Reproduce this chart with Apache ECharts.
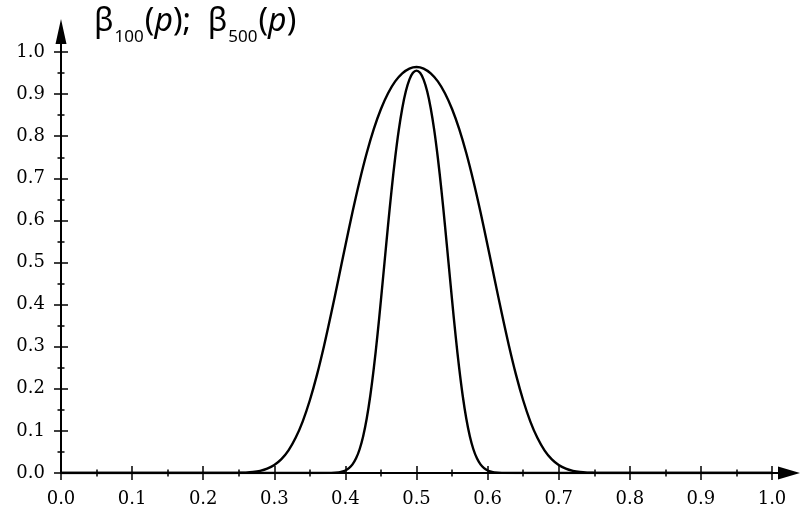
<!DOCTYPE html>
<html>
<head>
<meta charset="utf-8">
<script src="https://cdn.jsdelivr.net/npm/echarts@6/dist/echarts.min.js"></script>
<style>
html,body{margin:0;padding:0;background:#fff;}
#chart{width:800px;height:508px;}
</style>
</head>
<body>
<div id="chart"></div>
<script>
// Axis tick labels
const xTicks = [0.0, 0.1, 0.2, 0.3, 0.4, 0.5, 0.6, 0.7, 0.8, 0.9, 1.0];
const yTicks = [0.0, 0.1, 0.2, 0.3, 0.4, 0.5, 0.6, 0.7, 0.8, 0.9, 1.0];

// beta_100(p): p grid and values
const p100 = [0, 0.22, 0.24, 0.25, 0.26, 0.27, 0.28, 0.29, 0.30, 0.31, 0.32, 0.33, 0.34, 0.35, 0.36, 0.37, 0.38, 0.39,
  0.40, 0.41, 0.42, 0.43, 0.44, 0.45, 0.46, 0.47, 0.48, 0.49, 0.50, 0.51, 0.52, 0.53, 0.54, 0.55, 0.56, 0.57, 0.58, 0.59,
  0.60, 0.61, 0.62, 0.63, 0.64, 0.65, 0.66, 0.67, 0.68, 0.69, 0.70, 0.71, 0.72, 0.73, 0.74, 0.75, 0.76, 0.78, 1.0];
const beta100 = [0, 0, 0.0001, 0.0004, 0.0010, 0.0024, 0.0052, 0.0103, 0.0191, 0.0330, 0.0539, 0.0835, 0.1228, 0.1728, 0.2330, 0.3023, 0.3787, 0.4592,
  0.5406, 0.6198, 0.6936, 0.7600, 0.8173, 0.8646, 0.9021, 0.9302, 0.9493, 0.9606, 0.9643, 0.9606, 0.9493, 0.9302, 0.9021, 0.8646, 0.8173, 0.7600, 0.6936, 0.6198,
  0.5406, 0.4592, 0.3787, 0.3023, 0.2330, 0.1728, 0.1228, 0.0835, 0.0539, 0.0330, 0.0191, 0.0103, 0.0052, 0.0024, 0.0010, 0.0004, 0.0001, 0, 0];

// beta_500(p): p grid and values
const p500 = [0, 0.36, 0.38, 0.39, 0.395, 0.40, 0.405, 0.41, 0.415, 0.42, 0.425, 0.43, 0.435, 0.44, 0.445, 0.45, 0.455, 0.46, 0.465, 0.47, 0.475, 0.48, 0.485, 0.49, 0.495,
  0.50, 0.505, 0.51, 0.515, 0.52, 0.525, 0.53, 0.535, 0.54, 0.545, 0.55, 0.555, 0.56, 0.565, 0.57, 0.575, 0.58, 0.585, 0.59, 0.595, 0.60, 0.605, 0.61, 0.62, 0.64, 1.0];
const beta500 = [0, 0, 0.0003, 0.0014, 0.0030, 0.0060, 0.0114, 0.0204, 0.0348, 0.0564, 0.0874, 0.1294, 0.1835, 0.2496, 0.3264, 0.4111, 0.5000, 0.5886, 0.6728, 0.7488, 0.8139, 0.8666, 0.9066, 0.9344, 0.9505,
  0.9558, 0.9505, 0.9344, 0.9066, 0.8666, 0.8139, 0.7488, 0.6728, 0.5886, 0.5000, 0.4111, 0.3264, 0.2496, 0.1835, 0.1294, 0.0874, 0.0564, 0.0348, 0.0204, 0.0114, 0.0060, 0.0030, 0.0014, 0.0003, 0, 0];

const zip = (xs, ys) => xs.map((x, i) => [x, ys[i]]);
const fmt = v => Number(v).toFixed(1);
const labelFont = { fontFamily: 'DejaVu Serif', fontSize: 18, color: '#000' };

const chart = echarts.init(document.getElementById('chart'), null, { renderer: 'canvas' });

const xArrow = 'path://M6.5 0 L13 22 L7.5 22 L7.5 28 L5.5 28 L5.5 22 L0 22 Z';
const yArrow = 'path://M5.5 0 L11 25 L6.5 25 L6.5 33 L4.5 33 L4.5 25 L0 25 Z';

const baseX = {
  type: 'value', min: 0, max: 1, interval: 0.1, position: 'bottom',
  splitLine: { show: false }
};
const baseY = {
  type: 'value', min: 0, max: 1, interval: 0.1, position: 'left',
  splitLine: { show: false }
};

const tf = 'Noto Sans';
chart.setOption({
  backgroundColor: '#ffffff',
  animation: false,
  title: {
    left: 94, top: -2, padding: 0,
    text: '{b|β}{s|100}{n|(}{i|p}{n|);  β}{s|500}{n|(}{i|p}{n|)}',
    textStyle: {
      fontWeight: 'normal',
      rich: {
        b: { fontFamily: tf, fontWeight: 'normal', fontSize: 32, color: '#000', lineHeight: 48 },
        n: { fontFamily: tf, fontWeight: 'normal', fontSize: 32, color: '#000', lineHeight: 48 },
        i: { fontFamily: tf, fontWeight: 'normal', fontStyle: 'italic', fontSize: 32, color: '#000', lineHeight: 48 },
        s: { fontFamily: tf, fontWeight: 'normal', fontSize: 17, color: '#000', verticalAlign: 'bottom', lineHeight: 17, padding: [0, 1, 0, 1] }
      }
    }
  },
  grid: { left: 61, right: 28, top: 52, bottom: 35, containLabel: false },
  xAxis: [
    Object.assign({}, baseX, {
      axisLine: { show: true, symbol: ['none', xArrow], symbolSize: [13, 28], symbolOffset: [0, 14], lineStyle: { color: '#000', width: 2 } },
      axisTick: { show: true, inside: false, length: 7, lineStyle: { color: '#000', width: 1.5 } },
      minorTick: { show: true, splitNumber: 2, length: 3.5, lineStyle: { color: '#000', width: 1.5 } },
      axisLabel: Object.assign({ margin: 17, formatter: fmt }, labelFont)
    }),
    Object.assign({}, baseX, {
      axisLine: { show: false },
      axisTick: { show: true, inside: true, length: 7, lineStyle: { color: '#000', width: 1.5 } },
      minorTick: { show: true, splitNumber: 2, length: 3.5, lineStyle: { color: '#000', width: 1.5 } },
      axisLabel: { show: false }
    })
  ],
  yAxis: [
    Object.assign({}, baseY, {
      axisLine: { show: true, symbol: ['none', yArrow], symbolSize: [11, 33], symbolOffset: [0, 16.5], lineStyle: { color: '#000', width: 2 } },
      axisTick: { show: true, inside: false, length: 7, lineStyle: { color: '#000', width: 1.5 } },
      minorTick: { show: true, splitNumber: 2, length: 3.5, lineStyle: { color: '#000', width: 1.5 } },
      axisLabel: Object.assign({ margin: 16, formatter: fmt }, labelFont)
    }),
    Object.assign({}, baseY, {
      axisLine: { show: false },
      axisTick: { show: true, inside: true, length: 7, lineStyle: { color: '#000', width: 1.5 } },
      minorTick: { show: true, splitNumber: 2, length: 3.5, lineStyle: { color: '#000', width: 1.5 } },
      axisLabel: { show: false }
    })
  ],
  series: [
    {
      name: 'beta100', type: 'line', xAxisIndex: 0, yAxisIndex: 0,
      data: zip(p100, beta100), showSymbol: false, smooth: 0.35,
      lineStyle: { color: '#000', width: 2.4 }, z: 3
    },
    {
      name: 'beta500', type: 'line', xAxisIndex: 0, yAxisIndex: 0,
      data: zip(p500, beta500), showSymbol: false, smooth: 0.35,
      lineStyle: { color: '#000', width: 2.4 }, z: 3
    }
  ]
});
</script>
</body>
</html>
